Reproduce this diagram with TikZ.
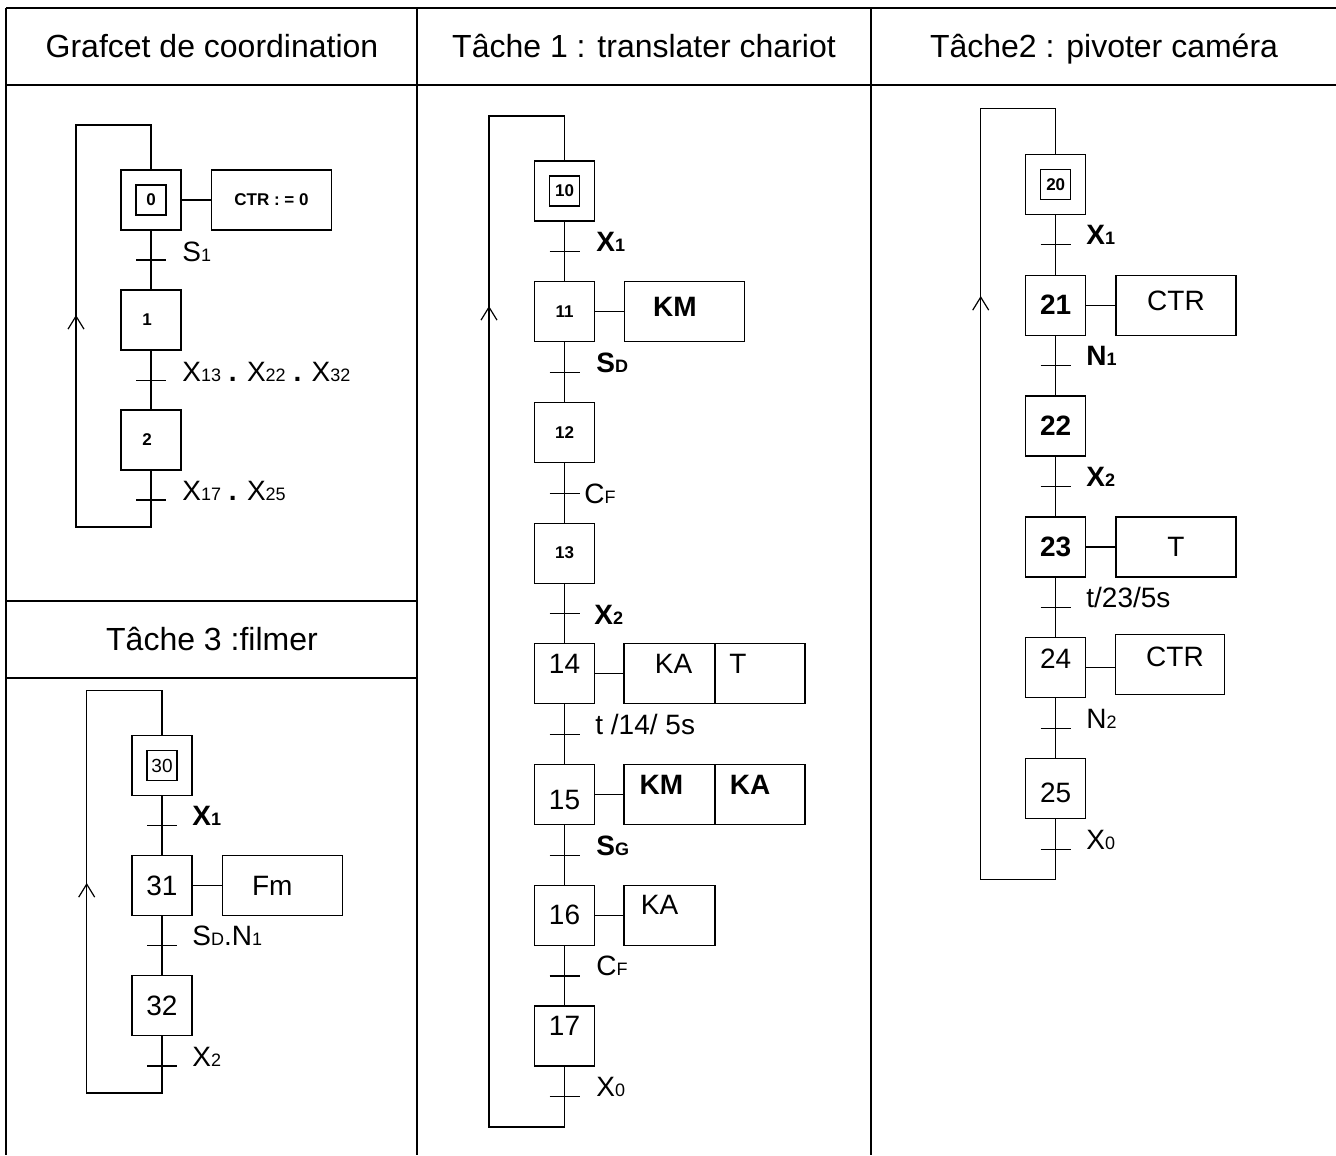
\documentclass[tikz,border=0pt]{standalone}
\usepackage{fontspec}
\setmainfont{Liberation Sans}
\usetikzlibrary{arrows.meta}

\newcommand{\bas}[1]{{\fontsize{9}{9}\selectfont #1}}
\newcommand{\petitgras}{\bfseries\fontsize{8.5}{9}\selectfont}
\newcommand{\franchir}[3]{\coordinate (#1) at (#2,#3);
  \draw[lien] ([xshift=-7.5pt]#1) -- ([xshift=7.5pt]#1);}

\tikzset{
  cadre/.style={line width=1pt},
  lien/.style={line width=0.6pt},
  fleche/.style={line width=0.6pt, -{Straight Barb[length=6.5pt,width=8pt]}},
  titre/.style={anchor=base, inner sep=0pt, font=\fontsize{16}{16}\selectfont},
  numero/.style={font=\fontsize{14}{14}\selectfont, inner sep=0pt},
  etape/.style={draw, line width=0.6pt, minimum size=30pt, inner sep=0pt, font=\fontsize{14}{14}\selectfont},
  etapegras/.style={etape, font=\bfseries\fontsize{14}{14}\selectfont},
  init/.style={draw, line width=0.6pt, minimum size=15pt, inner sep=0pt},
  action/.style={draw, line width=0.6pt, minimum width=60pt, minimum height=30pt, inner sep=0pt, font=\fontsize{14}{14}\selectfont},
  cond/.style={anchor=base west, inner sep=0pt, font=\fontsize{14}{14}\selectfont},
  condgras/.style={cond, font=\bfseries\fontsize{14}{14}\selectfont}
}

\begin{document}
\begin{tikzpicture}[x=0.5pt, y=-0.5pt]
\useasboundingbox (0,0) rectangle (1336,1155);

% tableau
\draw[cadre] (6,8) -- (1336,8);
\draw[cadre] (6,85) -- (1336,85);
\draw[cadre] (6,8) -- (6,1155);
\draw[cadre] (417,8) -- (417,1155);
\draw[cadre] (871,8) -- (871,1155);
\draw[cadre] (6,601) -- (417,601);
\draw[cadre] (6,678) -- (417,678);
\node[titre] (tit0) at (212,58) {Grafcet de coordination};
\node[titre] (tit1) at (644,58) {Tâche 1 : translater chariot};
\node[titre] (tit2) at (1104,58) {Tâche2 : pivoter caméra};
\node[titre] (tit3) at (212,650) {Tâche 3 :filmer};

% grafcet de coordination
\node[etape] (e0) at (151,200) {};
\node[init, font=\petitgras] (e0i) at (e0) {0};
\node[action, font=\petitgras] (a0) at (271.5,200) {CTR : = 0};
\node[etape, label={[font=\petitgras, xshift=-2pt]center:1}] (e1) at (151,320) {};
\node[etape, label={[font=\petitgras, xshift=-2pt]center:2}] (e2) at (151,440) {};
\draw[lien] (e0) -- (a0);
\draw[lien] (e0) -- (e1) -- (e2);
\franchir{t0}{151}{260}
\franchir{t1}{151}{380.7}
\franchir{t2}{151}{500}
\node[cond] (c0) at (182,261) {S\bas{1}};
\node[cond] (c1) at (182,381.5) {X\bas{13} \textbf{.} X\bas{22} \textbf{.} X\bas{32}};
\node[cond] (c2) at (182,500.5) {X\bas{17} \textbf{.} X\bas{25}};
\coordinate (b0) at (76,527);
\coordinate (h0) at (76,125);
\draw[lien] (e2) |- (b0) -- (h0) -| (e0);
\coordinate (f0) at (76,315);
\draw[fleche] ([yshift=-14pt]f0) -- (f0);

% tache 1
\node[etape] (e10) at (564.5,191) {};
\node[init, font=\petitgras] (e10i) at (e10) {10};
\node[etape, font=\petitgras] (e11) at (564.5,311.7) {11};
\node[etape, font=\petitgras] (e12) at (564.5,432.4) {12};
\node[etape, font=\petitgras] (e13) at (564.5,553.1) {13};
\node[etape, label={[numero, yshift=5pt]center:14}] (e14) at (564.5,673.8) {};
\node[etape, label={[numero, yshift=-2.5pt]center:15}] (e15) at (564.5,794.5) {};
\node[etape] (e16) at (564.5,915.2) {16};
\node[etape, label={[numero, yshift=5pt]center:17}] (e17) at (564.5,1035.9) {};
\node[action, label={[numero, xshift=-5pt, yshift=2.5pt]center:\textbf{KM}}] (a11) at (684.8,311.7) {};
\node[action, minimum width=45.5pt, label={[numero, xshift=2pt, yshift=5pt]center:KA}] (a14a) at (669.5,673.8) {};
\node[action, minimum width=45pt, label={[numero, xshift=-11pt, yshift=5pt]center:T}] (a14b) at (760,673.8) {};
\node[action, minimum width=45.5pt, label={[numero, xshift=-4pt, yshift=5pt]center:\textbf{KM}}] (a15a) at (669.5,794.5) {};
\node[action, minimum width=45pt, label={[numero, xshift=-5pt, yshift=5pt]center:\textbf{KA}}] (a15b) at (760,794.5) {};
\node[action, minimum width=45.5pt, label={[numero, xshift=-5pt, yshift=5pt]center:KA}] (a16) at (669.5,915.2) {};
\draw[lien] (e10) -- (e11) -- (e12) -- (e13) -- (e14) -- (e15) -- (e16) -- (e17);
\draw[lien] (e11) -- (a11);
\draw[lien] (e14) -- (a14a);
\draw[lien] (e15) -- (a15a);
\draw[lien] (e16) -- (a16);
\franchir{t10}{564.5}{251.7}
\franchir{t11}{564.5}{372.4}
\franchir{t12}{564.5}{493.1}
\franchir{t13}{564.5}{613.8}
\franchir{t14}{564.5}{734.5}
\franchir{t15}{564.5}{855.2}
\franchir{t16}{564.5}{975.9}
\franchir{t17}{564.5}{1096.6}
\node[condgras] (c10) at (596,251.7) {X\bas{1}};
\node[condgras] (c11) at (596,372.4) {S\bas{D}};
\node[cond, anchor=west] (c12) at (584,494) {C\bas{F}};
\node[condgras, anchor=west] (c13) at (594,614.5) {X\bas{2}};
\node[cond] (c14) at (595,734.5) {t /14/ 5s};
\node[condgras] (c15) at (596,855.2) {S\bas{G}};
\node[cond] (c16) at (596,975.9) {C\bas{F}};
\node[cond] (c17) at (596,1096.6) {X\bas{0}};
\coordinate (b1) at (489,1127);
\coordinate (h1) at (489,116);
\draw[lien] (e17) |- (b1) -- (h1) -| (e10);
\coordinate (f1) at (489,306);
\draw[fleche] ([yshift=-14pt]f1) -- (f1);

% tache 2
\node[etape] (e20) at (1055.7,184.2) {};
\node[init, font=\petitgras] (e20i) at (e20) {20};
\node[etapegras] (e21) at (1055.7,305.2) {21};
\node[etapegras] (e22) at (1055.7,425.9) {22};
\node[etapegras] (e23) at (1055.7,546.9) {23};
\node[etape, label={[numero, yshift=4.5pt]center:24}] (e24) at (1055.7,667.5) {};
\node[etape, label={[numero, yshift=-2pt]center:25}] (e25) at (1055.7,788.7) {};
\node[action, label={[numero, yshift=2pt]center:CTR}] (a21) at (1176,305.2) {};
\node[action] (a23) at (1176,546.9) {T};
\node[action, minimum width=54.3pt, label={[numero, xshift=2.5pt, yshift=4pt]center:CTR}] (a24) at (1170,664.8) {};
\draw[lien] (e20) -- (e21) -- (e22) -- (e23) -- (e24) -- (e25);
\draw[lien] (e21) -- (a21);
\draw[lien] (e23) -- (a23);
\draw[lien] (e24.east) -- (e24.east -| a24.west);
\franchir{t20}{1055.7}{244.3}
\franchir{t21}{1055.7}{365.7}
\franchir{t22}{1055.7}{486.7}
\franchir{t23}{1055.7}{607.7}
\franchir{t24}{1055.7}{728.3}
\franchir{t25}{1055.7}{849.3}
\node[condgras] (c20) at (1086,244.3) {X\bas{1}};
\node[condgras] (c21) at (1086,365.7) {N\bas{1}};
\node[condgras] (c22) at (1086,486.7) {X\bas{2}};
\node[cond] (c23) at (1086,607.7) {t/23/5s};
\node[cond] (c24) at (1086,728.3) {N\bas{2}};
\node[cond] (c25) at (1086,849.3) {X\bas{0}};
\coordinate (b2) at (980.7,879.3);
\coordinate (h2) at (980.7,108.3);
\draw[lien] (e25) |- (b2) -- (h2) -| (e20);
\coordinate (f2) at (980.7,296);
\draw[fleche] ([yshift=-14pt]f2) -- (f2);

% tache 3
\node[etape] (e30) at (162,765.7) {};
\node[init, font=\fontsize{9.5}{10}\selectfont] (e30i) at (e30) {30};
\node[etape] (e31) at (162,885.7) {31};
\node[etape] (e32) at (162,1005.7) {32};
\node[action, label={[numero, xshift=-5pt]center:Fm}] (a31) at (282.3,885.7) {};
\draw[lien] (e30) -- (e31) -- (e32);
\draw[lien] (e31) -- (a31);
\franchir{t30}{162}{825.7}
\franchir{t31}{162}{945.7}
\franchir{t32}{162}{1066}
\node[condgras] (c30) at (192,825.7) {X\bas{1}};
\node[cond] (c31) at (192,945.7) {S\bas{D}.N\bas{1}};
\node[cond] (c32) at (192,1066) {X\bas{2}};
\coordinate (b3) at (86.7,1093);
\coordinate (h3) at (86.7,690.7);
\draw[lien] (e32) |- (b3) -- (h3) -| (e30);
\coordinate (f3) at (86.7,883);
\draw[fleche] ([yshift=-14pt]f3) -- (f3);
\end{tikzpicture}
\end{document}
